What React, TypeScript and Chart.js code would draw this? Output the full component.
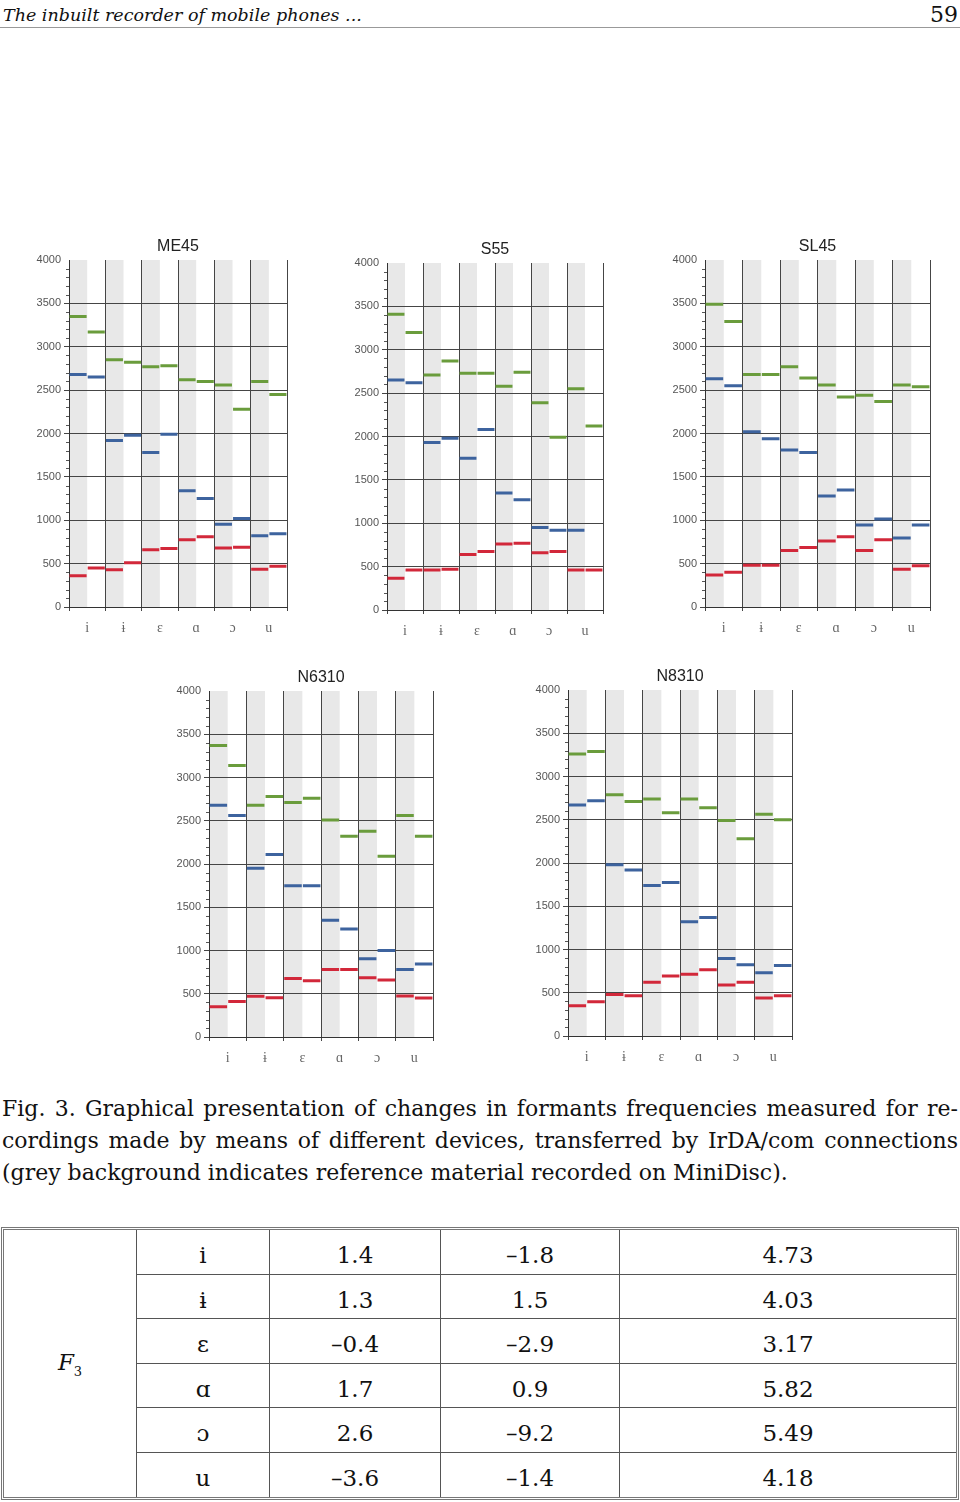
import React, { useEffect, useRef } from 'react';
import { Chart, registerables } from 'chart.js';

Chart.register(...registerables);

// ---------- data ----------
const vowels = ['i', 'ɨ', 'ɛ', 'ɑ', 'ɔ', 'u'];
const yMin = 0;
const yMax = 4000;
const yStep = 500;
const yMinorStep = 100;

// 12 columns: for every vowel, reference (grey) then device (white)
const me45F1 = [360, 450, 430, 510, 660, 675, 775, 810, 680, 690, 435, 470];
const me45F2 = [2680, 2650, 1920, 1980, 1780, 1990, 1340, 1250, 955, 1020, 820, 845];
const me45F3 = [3350, 3170, 2850, 2820, 2770, 2780, 2620, 2600, 2560, 2280, 2600, 2450];

const s55F1 = [365, 460, 460, 470, 640, 675, 760, 770, 660, 675, 460, 460];
const s55F2 = [2650, 2620, 1930, 1980, 1750, 2080, 1350, 1270, 950, 920, 920, null];
const s55F3 = [3410, 3200, 2710, 2870, 2730, 2730, 2580, 2740, 2390, 1990, 2550, 2120];

const sl45F1 = [370, 400, 480, 480, 650, 685, 760, 810, 650, 775, 435, 475];
const sl45F2 = [2630, 2550, 2020, 1940, 1810, 1780, 1280, 1350, 945, 1015, 795, 945];
const sl45F3 = [3490, 3290, 2680, 2680, 2770, 2640, 2560, 2420, 2440, 2370, 2560, 2540];

const n6310F1 = [350, 410, 470, 455, 675, 650, 780, 780, 685, 660, 475, 450];
const n6310F2 = [2680, 2560, 1950, 2110, 1750, 1750, 1350, 1250, 905, 1000, 780, 845];
const n6310F3 = [3370, 3140, 2680, 2780, 2710, 2760, 2510, 2320, 2380, 2090, 2560, 2320];

const n8310F1 = [350, 395, 480, 465, 620, 695, 715, 765, 590, 620, 440, 465];
const n8310F2 = [2670, 2720, 1980, 1920, 1740, 1775, 1320, 1370, 895, 825, 730, 815];
const n8310F3 = [3260, 3290, 2790, 2710, 2740, 2580, 2740, 2640, 2490, 2280, 2565, 2500];

const tableVowels = ['i', 'ɨ', 'ɛ', 'ɑ', 'ɔ', 'u'];
const tableCol1 = ['1.4', '1.3', '–0.4', '1.7', '2.6', '–3.6'];
const tableCol2 = ['–1.8', '1.5', '–2.9', '0.9', '–9.2', '–1.4'];
const tableCol3 = ['4.73', '4.03', '3.17', '5.82', '5.49', '4.18'];

// ---------- styles / layout ----------
const RED = '#d2283a';
const BLUE = '#3d639e';
const GREEN = '#6a9c3c';
const STRIPE = '#e8e8e8';
const GRID = '#454545';

const Y_AXIS_W = 40;
const TITLE_H = 30;
const X_AXIS_H = 35;
const PAD_R = 6;

type Box = { left: number; top: number; right: number; bottom: number };

function segments(values: (number | null)[]) {
  const pts: { x: number; y: number | null }[] = [];
  values.forEach((v, i) => {
    if (v == null) return;
    pts.push({ x: i + 0.03, y: v }, { x: i + 0.97, y: v }, { x: i + 0.97, y: null });
  });
  return pts;
}

const stripePlugin = {
  id: 'stripes',
  beforeDraw(chart: any) {
    const { ctx, chartArea } = chart;
    const xl = chart.scales.xl;
    ctx.save();
    ctx.fillStyle = STRIPE;
    for (let k = 0; k < vowels.length; k++) {
      const a = xl.getPixelForValue(2 * k);
      const b = xl.getPixelForValue(2 * k + 1);
      ctx.fillRect(a, chartArea.top, b - a, chartArea.bottom - chartArea.top);
    }
    ctx.restore();
  },
  afterDraw(chart: any) {
    const { ctx, chartArea } = chart;
    const y = chart.scales.y;
    ctx.save();
    ctx.strokeStyle = '#555';
    ctx.lineWidth = 1;
    ctx.beginPath();
    for (let v = yMin + yMinorStep; v < yMax; v += yMinorStep) {
      if (v % yStep === 0) continue;
      const py = Math.round(y.getPixelForValue(v)) + 0.5;
      ctx.moveTo(chartArea.left - 3, py);
      ctx.lineTo(chartArea.left, py);
    }
    ctx.stroke();
    ctx.restore();
  },
};

function Panel({ title, f1, f2, f3, box }: { title: string; f1: (number | null)[]; f2: (number | null)[]; f3: (number | null)[]; box: Box }) {
  const ref = useRef<HTMLCanvasElement>(null);
  const w = box.right - box.left + Y_AXIS_W + PAD_R;
  const h = box.bottom - box.top + TITLE_H + X_AXIS_H;

  useEffect(() => {
    const ds = (label: string, vals: (number | null)[], color: string) => ({
      label,
      data: segments(vals),
      xAxisID: 'xl',
      yAxisID: 'y',
      borderColor: color,
      backgroundColor: color,
      borderWidth: 3,
      borderCapStyle: 'butt',
      pointRadius: 0,
      pointHoverRadius: 0,
      tension: 0,
      spanGaps: false,
      fill: false,
    });
    const chart = new Chart(ref.current!, {
      type: 'line',
      data: {
        datasets: [ds('F3', f3, GREEN), ds('F2', f2, BLUE), ds('F1', f1, RED)] as any,
      },
      options: {
        animation: false,
        responsive: false,
        devicePixelRatio: 1,
        events: [],
        layout: { padding: { left: 0, right: PAD_R, top: 0, bottom: 0 } },
        plugins: {
          legend: { display: false },
          tooltip: { enabled: false },
          title: {
            display: true,
            fullSize: false,
            text: title,
            color: '#222',
            font: { family: 'Liberation Sans', size: 16, weight: 'normal', lineHeight: 1.2 },
            padding: { top: 7, bottom: 3.8 },
          },
        },
        scales: {
          x: {
            type: 'category',
            labels: vowels,
            offset: true,
            position: 'bottom',
            grid: { offset: true, color: GRID, lineWidth: 1, tickLength: 4, drawOnChartArea: true },
            border: { display: true, color: '#333' },
            ticks: {
              color: '#666',
              font: { family: 'Liberation Serif', size: 14 },
              padding: 9,
              maxRotation: 0,
              autoSkip: false,
            },
            afterFit: (s: any) => {
              s.height = X_AXIS_H;
            },
          },
          xl: {
            type: 'linear',
            min: 0,
            max: vowels.length * 2,
            display: false,
          },
          y: {
            type: 'linear',
            min: yMin,
            max: yMax,
            ticks: {
              stepSize: yStep,
              color: '#555',
              font: { family: 'Liberation Sans', size: 11 },
              padding: 3,
              callback: (v: any) => String(v),
            },
            grid: {
              color: (c: any) => (c.tick && c.tick.value === yMax ? 'rgba(0,0,0,0)' : GRID),
              lineWidth: 1,
              tickLength: 5,
            },
            border: { display: true, color: '#333' },
            afterFit: (s: any) => {
              s.width = Y_AXIS_W;
            },
          },
        } as any,
      },
      plugins: [stripePlugin],
    } as any);
    return () => chart.destroy();
  }, []);

  return (
    <div style={{ position: 'absolute', left: box.left - Y_AXIS_W, top: box.top - TITLE_H, width: w, height: h }}>
      <canvas ref={ref} width={w} height={h} style={{ width: w, height: h, display: 'block' }} />
    </div>
  );
}

const serif = "'DejaVu Serif', 'Liberation Serif', serif";

export default function App() {
  const cellBase: React.CSSProperties = {
    borderRight: '1px solid #555',
    borderBottom: '1px solid #555',
    textAlign: 'center',
    verticalAlign: 'middle',
    padding: '7px 0 0 0',
    fontFamily: serif,
    fontSize: 23,
    color: '#111',
  };
  const last = tableVowels.length - 1;
  return (
    <div style={{ position: 'absolute', left: 0, top: 0, width: 960, height: 1502, background: '#fff', overflow: 'hidden' }}>
      {/* header */}
      <div style={{ position: 'absolute', left: 3, top: 4, fontFamily: serif, fontStyle: 'italic', fontSize: 17.5, lineHeight: '22px', color: '#111', whiteSpace: 'nowrap' }}>
        The inbuilt recorder of mobile phones ...
      </div>
      <div style={{ position: 'absolute', right: 2, top: 2, fontFamily: serif, fontSize: 22, lineHeight: '26px', color: '#111' }}>59</div>
      <div style={{ position: 'absolute', left: 0, top: 27, width: 960, height: 0, borderTop: '1.5px solid #999' }} />

      <Panel title="ME45" f1={me45F1} f2={me45F2} f3={me45F3} box={{ left: 69, top: 260, right: 287, bottom: 607 }} />
      <Panel title="S55" f1={s55F1} f2={s55F2} f3={s55F3} box={{ left: 387, top: 263, right: 603, bottom: 610 }} />
      <Panel title="SL45" f1={sl45F1} f2={sl45F2} f3={sl45F3} box={{ left: 705, top: 260, right: 930, bottom: 607 }} />
      <Panel title="N6310" f1={n6310F1} f2={n6310F2} f3={n6310F3} box={{ left: 209, top: 691, right: 433, bottom: 1037 }} />
      <Panel title="N8310" f1={n8310F1} f2={n8310F2} f3={n8310F3} box={{ left: 568, top: 690, right: 792, bottom: 1036 }} />

      {/* caption */}
      <div style={{ position: 'absolute', left: 2, top: 1093, width: 956, fontFamily: serif, fontSize: 22, lineHeight: '32px', color: '#111' }}>
        <div style={{ textAlign: 'justify', textAlignLast: 'justify', whiteSpace: 'nowrap' }}>
          Fig. 3. Graphical presentation of changes in formants frequencies measured for re-
        </div>
        <div style={{ textAlign: 'justify', textAlignLast: 'justify', whiteSpace: 'nowrap' }}>
          cordings made by means of different devices, transferred by IrDA/com connections
        </div>
        <div style={{ whiteSpace: 'nowrap' }}>
          (grey background indicates reference material recorded on MiniDisc).
        </div>
      </div>

      {/* table */}
      <table
        style={{
          position: 'absolute',
          left: 1,
          top: 1227,
          width: 958,
          height: 273,
          borderCollapse: 'separate',
          borderSpacing: 0,
          border: '3px double #777',
          tableLayout: 'fixed',
        }}
      >
        <colgroup>
          <col style={{ width: 133 }} />
          <col style={{ width: 133 }} />
          <col style={{ width: 171 }} />
          <col style={{ width: 179 }} />
          <col />
        </colgroup>
        <tbody>
          {tableVowels.map((v, i) => (
            <tr key={v} style={{ height: 44.5 }}>
              {i === 0 && (
                <td rowSpan={tableVowels.length} style={{ ...cellBase, borderBottom: 'none', padding: 0 }}>
                  <span style={{ fontStyle: 'italic' }}>F</span>
                  <sub style={{ fontSize: 13, fontStyle: 'normal' }}>3</sub>
                </td>
              )}
              <td style={{ ...cellBase, borderBottom: i === last ? 'none' : cellBase.borderBottom }}>{v}</td>
              <td style={{ ...cellBase, borderBottom: i === last ? 'none' : cellBase.borderBottom }}>{tableCol1[i]}</td>
              <td style={{ ...cellBase, borderBottom: i === last ? 'none' : cellBase.borderBottom }}>{tableCol2[i]}</td>
              <td style={{ ...cellBase, borderRight: 'none', borderBottom: i === last ? 'none' : cellBase.borderBottom }}>{tableCol3[i]}</td>
            </tr>
          ))}
        </tbody>
      </table>
    </div>
  );
}
